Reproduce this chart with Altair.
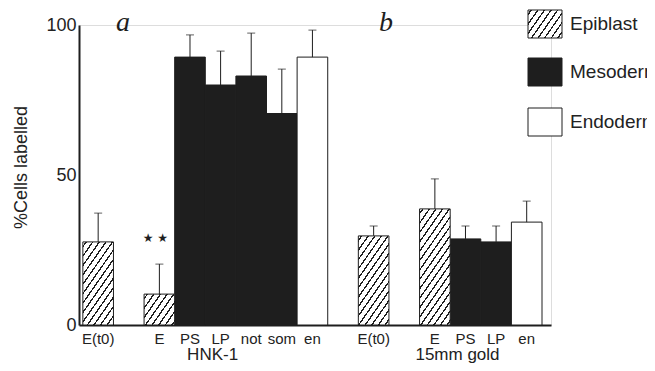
import math
import altair as alt
import pandas as pd

# ---------------- data ----------------
slots = ["a|E(t0)", "gap1", "a|E", "a|PS", "a|LP", "a|not", "a|som", "a|en",
         "gap2", "b|E(t0)", "gap3", "b|E", "b|PS", "b|LP", "b|en"]
bar_ids = ["a|E(t0)", "a|E", "a|PS", "a|LP", "a|not", "a|som", "a|en",
           "b|E(t0)", "b|E", "b|PS", "b|LP", "b|en"]
tissue = ["Epiblast", "Epiblast", "Mesoderm", "Mesoderm", "Mesoderm", "Mesoderm", "Endoderm",
          "Epiblast", "Epiblast", "Mesoderm", "Mesoderm", "Endoderm"]
pct = [27.7, 10.3, 89.3, 80.0, 83.0, 70.5, 89.3, 29.7, 38.7, 28.7, 27.7, 34.3]
upper = [37.3, 20.3, 96.7, 91.3, 97.3, 85.3, 98.3, 33.0, 48.7, 33.0, 33.0, 41.3]

groups = ["HNK-1", "15mm gold"]
group_anchor = ["a|LP", "b|PS"]
legend_labels = ["Epiblast", "Mesoderm", "Endoderm"]
y_ticks = [0, 50, 100]

df = pd.DataFrame({"slot": bar_ids, "tissue": tissue, "pct": pct, "upper": upper})
gdf = pd.DataFrame({"slot": group_anchor, "group": groups})

# ---------------- layout constants ----------------
W, H = 472, 300
BAND = 30.6
PX_PER_UNIT = H / 100.0
INK = "#1e1e1e"
FONT = "Liberation Sans"


def hatch(w, h, theta_deg=55.0, period=5.4, lw=1.3, color=INK):
    th = math.radians(theta_deg)
    sn, cs = math.sin(th), math.cos(th)
    D = w * sn + h * cs
    denom = w * h * (sn ** 2 / h ** 2 + cs ** 2 / w ** 2)
    s = D / denom
    x2 = s * sn / h
    y2 = s * cs / w
    hw = lw / 2.0 / D
    stops = [{"offset": 0, "color": "white"}]
    k = 0
    while True:
        c = (k * period + period * 0.5) / D
        if c - hw >= 1:
            break
        a, b = max(c - hw, 0), min(c + hw, 1)
        stops += [{"offset": a, "color": "white"}, {"offset": a, "color": color},
                  {"offset": b, "color": color}, {"offset": b, "color": "white"}]
        k += 1
    stops.append({"offset": 1, "color": "white"})
    return {"gradient": "linear", "x1": 0, "y1": 0, "x2": x2, "y2": y2, "stops": stops}


x_enc = alt.X(
    "slot:N",
    scale=alt.Scale(domain=slots, paddingInner=0, paddingOuter=0.21, align=0.3),
    sort=slots,
    axis=alt.Axis(
        title=None, labelAngle=0, tickSize=0, labelPadding=6,
        labelExpr="indexof(datum.value, '|') >= 0 ? split(datum.value, '|')[1] : ''",
        labelFont=FONT, labelFontSize=15, labelColor="#222",
        domainColor=INK, domainWidth=2,
    ),
)
y_scale = alt.Scale(domain=[0, 100], nice=False, zero=True)
y_axis = alt.Axis(
    values=y_ticks, tickSize=0, labelPadding=3, grid=False,
    labelFont=FONT, labelFontSize=18, labelColor="#222", labelFlush=False,
    domainColor=INK, domainWidth=2,
    title="%Cells labelled", titleFont=FONT, titleFontSize=18, titleFontWeight="normal",
    titleColor="#222", titleX=-58, titleY=142, titleAngle=-90,
    titleAlign="center", titleBaseline="middle",
)
y_enc = alt.Y("pct:Q", scale=y_scale, axis=y_axis)

base = alt.Chart(df)

meso = base.transform_filter(alt.datum.tissue == "Mesoderm").mark_bar(
    fill=INK, stroke=INK, strokeWidth=1).encode(x=x_enc, y=y_enc)
endo = base.transform_filter(alt.datum.tissue == "Endoderm").mark_bar(
    fill="white", stroke=INK, strokeWidth=1).encode(x=x_enc, y=y_enc)

epi_layers = []
for sid, t, v in zip(bar_ids, tissue, pct):
    if t != "Epiblast":
        continue
    g = hatch(BAND, v * PX_PER_UNIT)
    epi_layers.append(
        base.transform_filter(alt.datum.slot == sid).mark_bar(
            fill=g, stroke=INK, strokeWidth=1).encode(x=x_enc, y=y_enc)
    )

err = base.mark_rule(color=INK, strokeWidth=1).encode(
    x=x_enc, y=alt.Y("pct:Q", scale=y_scale, axis=y_axis), y2="upper:Q")
cap = base.mark_tick(color=INK, size=8, thickness=1).encode(
    x=x_enc, y=alt.Y("upper:Q", scale=y_scale, axis=y_axis))

stars = alt.Chart(pd.DataFrame({"slot": ["a|E"], "t": ["★ ★"]})).mark_text(
    font="DejaVu Sans", fontSize=12, color=INK, dx=-4, baseline="middle").encode(
    x=x_enc, y=alt.value(213), text="t:N")

group_text = alt.Chart(gdf).mark_text(
    font=FONT, fontSize=17, color="#222", dx=-8, baseline="alphabetic").encode(
    x=x_enc, y=alt.value(335), text="group:N")

panel_a = alt.Chart(pd.DataFrame({"t": ["a"]})).mark_text(
    font="Liberation Serif", fontStyle="italic", fontSize=28, color=INK,
    baseline="alphabetic").encode(x=alt.value(44), y=alt.value(6), text="t:N")
panel_b = alt.Chart(pd.DataFrame({"t": ["b"]})).mark_text(
    font="Liberation Serif", fontStyle="italic", fontSize=28, color=INK,
    baseline="alphabetic").encode(x=alt.value(307), y=alt.value(6), text="t:N")

# ---------------- legend ----------------
leg_x0, leg_x1 = 449, 483
leg_tops = [-15, 33, 83]
leg_h = 28
leg_fills = [hatch(leg_x1 - leg_x0, leg_h), INK, "white"]
legend_layers = []
for lab, top, fill in zip(legend_labels, leg_tops, leg_fills):
    ldf = pd.DataFrame({"label": [lab]})
    legend_layers.append(
        alt.Chart(ldf).mark_rect(fill=fill, stroke=INK, strokeWidth=1).encode(
            x=alt.value(leg_x0), x2=alt.value(leg_x1),
            y=alt.value(top), y2=alt.value(top + leg_h))
    )
    legend_layers.append(
        alt.Chart(ldf).mark_text(font=FONT, fontSize=19, color="#222", align="left",
                                 baseline="middle").encode(
            x=alt.value(leg_x1 + 8), y=alt.value(top + leg_h / 2), text="label:N")
    )

chart = alt.layer(
    meso, endo, *epi_layers, err, cap, stars, group_text, panel_a, panel_b, *legend_layers
).properties(
    width=W, height=H,
    autosize=alt.AutoSizeParams(type="none"),
    padding={"left": 71, "top": 17, "right": 96, "bottom": 38},
).configure_view(stroke=None).configure(background="white")

chart.save("out.html", embed_options={"renderer": "svg", "actions": False})
